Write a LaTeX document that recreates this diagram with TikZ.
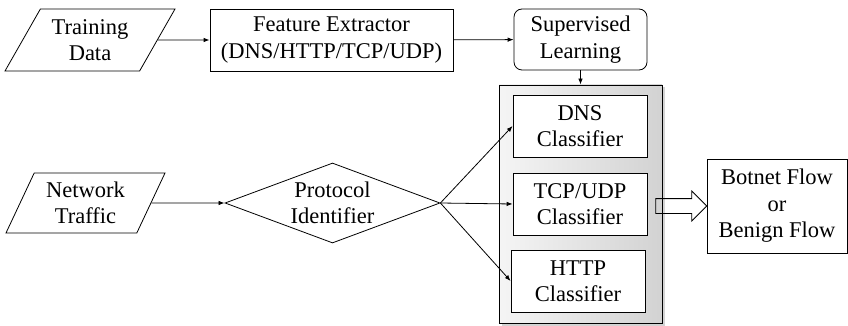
\documentclass[tikz,border=0pt]{standalone}
\usepackage{fontspec}
\setmainfont{LiberationSerif}[Extension=.ttf, UprightFont=*-Regular, BoldFont=*-Bold, ItalicFont=*-Italic, BoldItalicFont=*-BoldItalic]
\usetikzlibrary{shapes.geometric,shapes.arrows,shadows,arrows.meta}

\begin{document}
\begin{tikzpicture}[x=1pt,y=-1pt,
	font=\fontsize{22.5}{26.5}\selectfont,
	datain/.style={trapezium, draw, line width=0.8pt, align=center, trapezium stretches body, inner xsep=0pt, inner ysep=7.5pt},
	procbox/.style={rectangle, draw, line width=0.8pt, align=center, minimum width=243pt, minimum height=62pt},
	learnbox/.style={rectangle, rounded corners=8pt, draw, line width=0.8pt, align=center, minimum width=133pt, minimum height=61pt},
	clsbox/.style={rectangle, draw, line width=0.8pt, fill=white, align=center, minimum width=134pt, minimum height=62pt},
	decide/.style={diamond, draw, line width=0.8pt, align=center, inner sep=-8pt, aspect=2.69, minimum width=215pt, minimum height=80pt},
	grpbox/.style={rectangle, draw, line width=0.8pt, left color=gray!8, right color=gray!35, minimum width=163pt, minimum height=238pt,
		drop shadow={shadow xshift=2.5pt, shadow yshift=-2.5pt, opacity=0.35}},
	outbox/.style={rectangle, draw, line width=0.8pt, align=center, minimum width=140pt, minimum height=94pt},
	flow/.style={line width=0.8pt, -{Latex[length=6pt,width=4.5pt]}}]

	\useasboundingbox (0,0) rectangle (848,326);

	% training path
	\node 	(train)	at	(90,40) 	[datain, trapezium left angle=58, trapezium right angle=122, minimum width=170pt, minimum height=62pt]{Training\\Data};

	\node 	(feat)	at	(331.5,40) 	[procbox]{Feature Extractor\\(DNS/HTTP/TCP/UDP)};
	\draw[flow] (train) to (feat);

	\node 	(sup)	at	(580.5,39.5) 	[learnbox]{Supervised\\Learning};
	\draw[flow] (feat) to (sup);

	% classifier group
	\node 	(grp)	at	(580.5,204) 	[grpbox]{};
	\draw[flow] (sup) to (grp);

	\node 	(dns)	at	(580,126) 	[clsbox]{DNS\\Classifier};
	\node 	(tcp)	at	(580,204) 	[clsbox]{TCP/UDP\\Classifier};
	\node 	(http)	at	(578,281) 	[clsbox]{HTTP\\Classifier};

	% detection path
	\node 	(net)	at	(85.5,203) 	[datain, trapezium left angle=63, trapezium right angle=117, minimum width=159pt, minimum height=60pt, inner ysep=6.5pt]{Network\\Traffic};

	\node 	(proto)	at	(332.5,203) 	[decide]{Protocol\\Identifier};
	\draw[flow] (net) to (proto);

	\draw[flow] (proto.east) to (dns.west);
	\draw[flow] (proto.east) to (tcp.west);
	\draw[flow] (proto.east) to (http.west);

	\node 	(res)	at	(777,206) 	[outbox]{Botnet Flow\\or\\Benign Flow};

	\node 	(out)	at	(677.5,206) 	[single arrow, draw, line width=0.8pt, inner sep=0pt, text height=7pt, text depth=7pt,
		single arrow head extend=7.5pt, minimum height=51pt]{};

\end{tikzpicture}
\end{document}
